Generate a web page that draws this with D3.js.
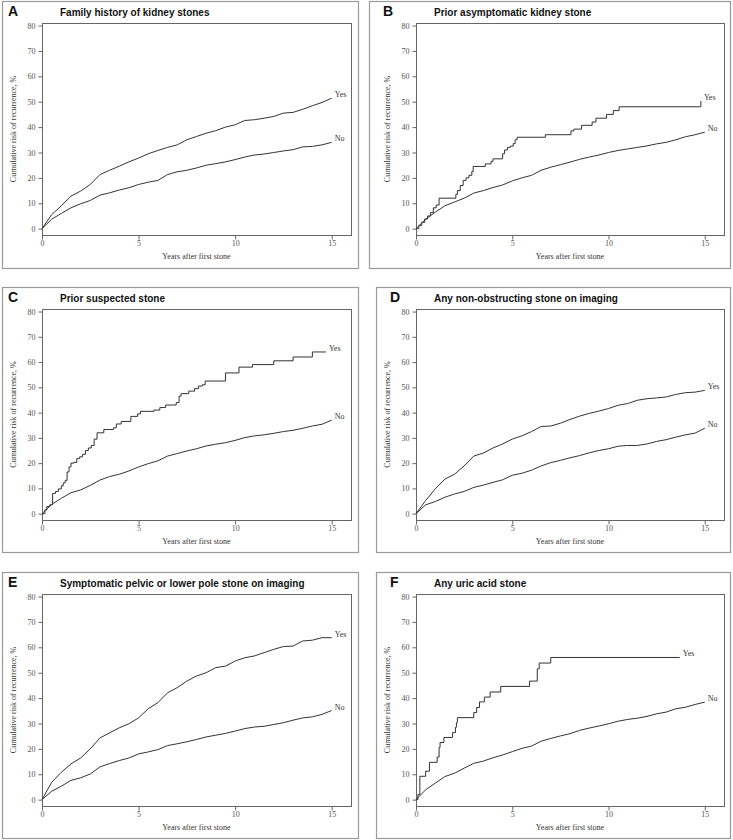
<!DOCTYPE html>
<html><head><meta charset="utf-8">
<script src="https://cdn.jsdelivr.net/npm/d3@7"></script>
<style>body{margin:0;background:#fff}</style>
</head><body><svg id="c" width="733" height="840"></svg>
<script>
// ---------- data ----------
const letters = ["A","B","C","D","E","F"];
const titles = [
  "Family history of kidney stones",
  "Prior asymptomatic kidney stone",
  "Prior suspected stone",
  "Any non-obstructing stone on imaging",
  "Symptomatic pelvic or lower pole stone on imaging",
  "Any uric acid stone"
];
const xTicks = [0,5,10,15];
const yTicks = [0,10,20,30,40,50,60,70,80];
const xLabel = "Years after first stone";
const yLabel = "Cumulative risk of recurrence, %";
const seriesNames = ["Yes","No"];

const yearGrid = [0,0.5,1,1.5,2,2.5,3,3.5,4,4.5,5,5.5,6,6.5,7,7.5,8,8.5,9,9.5,10,10.5,11,11.5,12,12.5,13,13.5,14,14.5,15];

const aYes = [0,5.5,9,12.8,14.8,17.4,21.3,23,24.6,26.3,27.8,29.5,30.8,32,33,35,36.3,37.6,38.6,40,40.9,42.6,42.9,43.5,44.2,45.5,45.8,47,48.4,49.7,51.4];
const aNo  = [0,3.7,6,8.2,9.8,11.1,13.2,14.1,15.2,16.1,17.4,18.3,19,21.3,22.4,23,23.9,25,25.6,26.3,27.2,28.2,29,29.4,30,30.6,31.1,32.2,32.4,33,34];

const bYesT = [0,0.15,0.3,0.45,0.6,0.75,0.9,1.05,1.2,2.07,2.15,2.3,2.45,2.6,2.75,2.9,2.97,3.6,3.9,4.0,4.5,4.6,4.75,4.9,5.05,5.15,5.25,6.72,8.05,8.2,8.6,9.15,9.35,9.9,10.25,10.55,14.8];
const bYesV = [0,1.3,2.5,3.8,5,6.3,8.2,9.3,12,13.5,15,17,19,20,21,22.5,24.5,25.5,26.5,27.5,29.5,31,32,32.5,33.5,35,36,37,38.5,39.2,40.7,42,43.5,45,46.5,48,50.3];
const bNo  = [0,3.7,6.5,9,10.5,12,14,15,16.2,17.2,18.8,20,21,23,24.2,25.2,26.2,27.3,28.2,29,30,30.8,31.4,32,32.6,33.4,34,35,36.2,37,38];

const cYesT = [0,0.15,0.25,0.4,0.55,0.7,0.85,1.0,1.1,1.2,1.3,1.4,1.5,1.65,1.8,1.95,2.1,2.25,2.4,2.55,2.7,2.85,3.2,3.7,3.85,4.1,4.6,4.95,5.1,5.8,6.1,6.4,6.95,7.1,7.2,7.6,7.9,8.1,8.3,8.45,9.5,10.2,10.9,12.0,13.0,14.0,14.7];
const cYesV = [0,1.5,2.8,3.5,8,8.8,9.8,11,12.2,13.2,16.5,18.5,20,20.3,21.8,22.5,23.5,25,26,27,29.5,32,33.3,34,35.5,36.5,38.5,39.5,40.5,41,42,43,44,46.5,47.5,48.5,49.5,50.5,51,52.5,55.7,58,59,60.5,62,64,64];
const cNo  = [0,3.7,6.1,8.3,9.4,11.2,13.3,14.7,15.6,16.9,18.5,19.8,20.9,22.8,23.8,24.8,25.7,26.8,27.5,28.1,29,30.1,30.8,31.2,31.8,32.5,33,33.8,34.7,35.4,37];

const dYes = [0,5.2,9.8,13.7,15.6,18.9,22.8,24,26,27.6,29.5,30.8,32.5,34.5,34.7,35.8,37.3,38.6,39.7,40.6,41.6,42.9,43.6,44.9,45.5,45.8,46.2,47.2,47.9,48.1,48.8];
const dNo  = [0,3.5,4.8,6.5,7.8,8.8,10.4,11.3,12.4,13.4,15.2,16,17.2,18.9,20.2,21.1,22.1,23,24.1,25,25.7,26.7,27,27,27.6,28.6,29.3,30.3,31.2,31.9,33.8];

const eYes = [0,6.8,10.8,14.1,16.4,20,24.3,26.3,28.3,29.9,32.2,35.8,38.2,42.1,44.1,46.7,48.7,50,52,52.6,54.6,55.9,56.6,57.9,59.2,60.3,60.5,62.5,62.8,63.8,63.8];
const eNo  = [0,3.3,5.3,7.6,8.6,10.1,12.9,14.2,15.4,16.4,18,18.8,19.7,21.3,22,22.8,23.7,24.7,25.4,26.1,27,28,28.6,28.9,29.6,30.3,31.3,32.2,32.6,33.6,35.1];

const fYesT = [0,0.1,0.2,0.5,0.7,1.1,1.2,1.25,1.45,1.9,2.05,2.1,2.15,3.0,3.15,3.3,3.55,3.85,4.4,5.9,6.3,6.4,7.0,13.7];
const fYesV = [0,2,9.2,11.2,14.7,16.8,20.6,22.5,24.5,26.4,28.5,30.3,32.3,34.3,36.3,38.5,40.4,42.4,44.6,46.7,51.5,53.8,56,56];
const fNo  = [0,3.9,6.5,9.1,10.4,12.4,14.3,15.2,16.5,17.6,18.9,20.2,21.1,23,24.1,25.1,26,27.3,28.2,29,29.9,30.9,31.6,32.1,32.8,33.8,34.5,35.8,36.4,37.5,38.4];

// ---------- layout ----------
const zip = (t,v) => t.map((d,i)=>[d,v[i]]);
const panels = [
  {yes: zip(yearGrid,aYes), yesStep:false, no: zip(yearGrid,aNo), box:[2,1,358,268], plot:[42,23,351,235]},
  {yes: zip(bYesT,bYesV), yesStep:true, no: zip(yearGrid,bNo), box:[369,1,730,268], plot:[416,23,724,235]},
  {yes: zip(cYesT,cYesV), yesStep:true, no: zip(yearGrid,cNo), box:[2,287,358,552], plot:[42,309,351,520]},
  {yes: zip(yearGrid,dYes), yesStep:false, no: zip(yearGrid,dNo), box:[376,287,730,552], plot:[416,309,724,520]},
  {yes: zip(yearGrid,eYes), yesStep:false, no: zip(yearGrid,eNo), box:[2,572,358,838], plot:[42,594,351,806]},
  {yes: zip(fYesT,fYesV), yesStep:true, no: zip(yearGrid,fNo), box:[376,572,730,838], plot:[416,594,724,806]}
];

const svg = d3.select("#c");
const serif = "'Liberation Serif','Times New Roman',serif";
const sans = "'Liberation Sans',Arial,sans-serif";

panels.forEach((p,i) => {
  const g = svg.append("g");
  const [bx0,by0,bx1,by1] = p.box;
  const [px0,py0,px1,py1] = p.plot;
  g.append("rect").attr("x",bx0+0.5).attr("y",by0+0.5).attr("width",bx1-bx0).attr("height",by1-by0)
    .attr("fill","none").attr("stroke","#9a9a9a").attr("stroke-width",1.2);

  const x = d3.scaleLinear().domain([0,16]).range([px0,px1]);
  const y = d3.scaleLinear().domain([-2.5,81]).range([py1,py0]);

  g.append("text").attr("x",bx0+ (i%2===0?6:14)).attr("y",py0-7)
    .attr("font-family",sans).attr("font-weight","bold").attr("font-size",14).attr("fill","#111").text(letters[i]);
  g.append("text").attr("x",px0+18).attr("y",py0-7)
    .attr("font-family",sans).attr("font-weight","bold").attr("font-size",10).attr("fill","#111").text(titles[i]);

  g.append("rect").attr("x",px0+0.5).attr("y",py0+0.5).attr("width",px1-px0).attr("height",py1-py0)
    .attr("fill","none").attr("stroke","#666").attr("stroke-width",1);

  const ya = g.append("g").attr("transform",`translate(${px0+0.5},0)`)
    .call(d3.axisLeft(y).tickValues(yTicks).tickSize(4).tickPadding(3));
  const xa = g.append("g").attr("transform",`translate(0,${py1+0.5})`)
    .call(d3.axisBottom(x).tickValues(xTicks).tickSize(4).tickPadding(1));
  [ya,xa].forEach(a=>{
    a.select(".domain").remove();
    a.selectAll("line").attr("stroke","#666");
    a.selectAll("text").attr("font-family",serif).attr("font-size",8).attr("fill","#555");
  });

  g.append("text").attr("x",(px0+px1)/2).attr("y",py1+24).attr("text-anchor","middle")
    .attr("font-family",serif).attr("font-size",8).attr("fill","#333").text(xLabel);
  g.append("text").attr("transform",`translate(${px0-26},${(py0+py1)/2}) rotate(-90)`).attr("text-anchor","middle")
    .attr("font-family",serif).attr("font-size",8).attr("fill","#333").text(yLabel);

  const lineLin = d3.line().x(d=>x(d[0])).y(d=>y(d[1])).curve(d3.curveLinear);
  const lineStep = d3.line().x(d=>x(d[0])).y(d=>y(d[1])).curve(d3.curveStepAfter);
  g.append("path").attr("d",(p.yesStep?lineStep:lineLin)(p.yes)).attr("fill","none").attr("stroke","#333").attr("stroke-width",1);
  g.append("path").attr("d",lineLin(p.no)).attr("fill","none").attr("stroke","#333").attr("stroke-width",1);

  [[p.yes,seriesNames[0]],[p.no,seriesNames[1]]].forEach(([s,name])=>{
    const last = s[s.length-1];
    g.append("text").attr("x",x(last[0])+3).attr("y",y(last[1])-1)
      .attr("font-family",serif).attr("font-size",8).attr("fill","#333").text(name);
  });
});
</script></body></html>
